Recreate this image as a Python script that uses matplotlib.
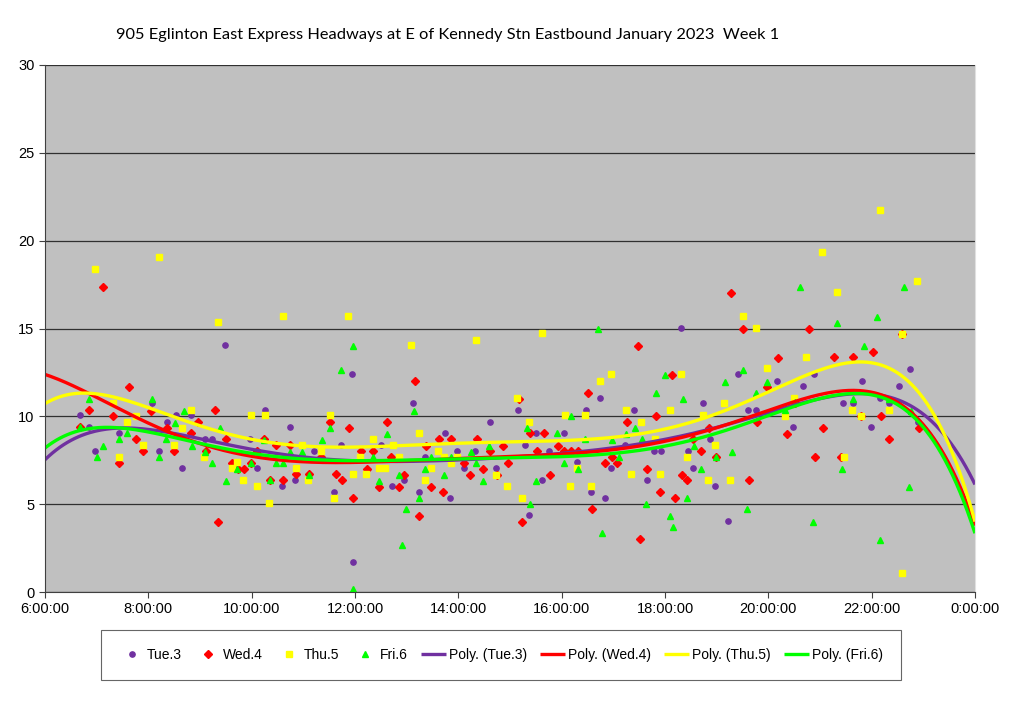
import numpy as np
import matplotlib
matplotlib.use('Agg')
import matplotlib.pyplot as plt

# headways (minutes) by departure time (hours after midnight)
tue_h = [6.68, 6.85, 6.97, 7.43, 8.08, 8.21, 8.36, 8.54, 8.65, 8.83,
         9.48, 10.26, 10.75, 11.94, 11.96, 9.10, 9.24, 9.97, 10.10, 10.59, 10.84, 11.21, 11.59, 11.73,
         13.13, 12.50, 12.95, 12.72, 13.23, 13.35, 13.75, 13.84, 13.97, 14.10, 14.33, 14.61, 14.73,
         15.15, 15.29, 15.51, 15.61, 15.37, 15.75, 16.05, 16.30, 16.47, 16.57, 16.75, 16.84, 16.95,
         17.22, 17.40, 17.65, 17.78, 17.92,
         18.31, 18.73, 18.45, 18.55, 18.87, 18.97, 19.22, 19.42, 19.60, 19.77, 20.16, 20.48, 20.68, 20.88,
         21.82, 21.45, 21.63, 22.16, 22.34, 21.98, 22.52, 22.75, 22.90]
tue_v = [10.07, 9.37, 8.04, 9.07, 10.74, 8.04, 9.69, 10.07, 7.06, 10.07,
         14.04, 10.36, 9.37, 12.39, 1.73, 8.71, 8.71, 8.71, 7.04, 6.03, 6.37, 8.04, 5.71, 8.37,
         10.74, 8.37, 6.37, 6.03, 5.71, 7.70, 9.03, 5.37, 8.04, 7.04, 8.04, 9.69, 7.04,
         10.36, 8.37, 9.03, 6.37, 4.38, 8.04, 9.03, 7.38, 10.36, 5.71, 11.06, 5.37, 7.04,
         8.37, 10.36, 6.37, 8.04, 8.04,
         15.04, 10.74, 8.04, 7.04, 8.71, 6.03, 4.04, 12.39, 10.36, 10.36, 12.03, 9.37, 11.72, 12.39,
         12.03, 10.74, 10.74, 11.04, 10.74, 9.37, 11.72, 12.69, 9.69]

wed_h = [7.13, 6.85, 7.63, 7.31, 7.77, 7.43, 8.37, 8.50, 8.83, 8.96, 6.68, 8.06, 7.90,
         9.29, 9.34, 9.50, 9.61, 9.86, 10.11, 10.24, 10.36, 10.48, 10.61, 10.75, 10.85, 11.11,
         11.35, 11.52, 11.63, 11.74, 11.88, 11.97, 9.12, 9.73, 9.98,
         13.16, 12.62, 12.11, 12.35, 12.23, 12.47, 12.85, 12.95, 13.24, 13.37, 13.48, 13.62, 13.71,
         13.86, 14.11, 14.23, 14.37, 14.48, 14.61, 14.74, 14.86, 14.97, 12.69,
         15.17, 15.39, 15.52, 15.66, 15.77, 15.24, 15.92, 16.05, 16.18, 16.31, 16.51, 16.58, 16.84,
         16.97, 17.08, 17.26, 17.48, 17.52, 17.65, 17.82, 17.91,
         19.27, 19.51, 20.78, 20.19, 18.13, 19.98, 18.86, 18.55, 18.69, 18.99, 19.79, 20.36, 20.91,
         18.33, 18.42, 18.19, 19.62, 20.52,
         21.28, 21.63, 22.03, 21.06, 21.41, 21.80, 22.19, 22.34, 22.92, 22.58]
wed_v = [17.38, 10.34, 11.69, 10.04, 8.69, 7.36, 9.36, 8.02, 9.03, 9.69, 9.40, 10.32, 8.02,
         10.34, 4.00, 8.69, 7.36, 7.02, 8.02, 8.69, 6.37, 8.37, 6.37, 8.37, 6.70, 6.70,
         7.70, 9.68, 6.70, 6.37, 9.36, 5.37, 8.02, 7.02, 7.36,
         11.99, 9.68, 8.02, 8.02, 7.02, 5.99, 5.99, 6.66, 4.34, 8.33, 5.99, 8.69, 5.67,
         8.69, 7.36, 6.66, 8.69, 7.02, 8.02, 6.66, 8.33, 7.36, 7.66,
         11.00, 9.03, 8.02, 9.03, 6.66, 4.00, 8.33, 8.02, 8.02, 8.02, 11.33, 4.71, 7.36,
         7.70, 7.36, 9.68, 14.00, 3.00, 7.02, 10.02, 5.67,
         17.04, 15.00, 15.00, 13.34, 12.35, 11.69, 9.36, 8.69, 8.02, 7.70, 9.68, 8.99, 7.70,
         6.66, 6.37, 5.33, 6.37, 10.74,
         13.36, 13.36, 13.68, 9.36, 7.70, 10.02, 10.02, 8.69, 9.36, 14.68]

thu_h = [6.97, 8.21, 7.31, 7.59, 7.77, 7.43, 7.90, 8.50, 8.66, 8.83,
         9.35, 10.61, 11.86, 9.99, 10.25, 11.51, 9.08, 9.62, 9.72, 9.83, 10.10, 10.34, 10.85, 10.98,
         11.09, 11.35, 11.60, 11.97,
         13.09, 14.34, 13.24, 12.35, 12.21, 12.47, 12.59, 12.73, 12.85, 13.35, 13.47, 13.61, 13.73,
         13.85, 13.98, 14.73, 14.94, 12.10,
         15.61, 16.95, 16.75, 15.13, 15.37, 16.06, 16.45, 17.25, 17.53, 15.23, 16.17, 16.29, 16.56,
         17.35, 17.91, 17.81,
         19.51, 19.77, 18.30, 20.72, 19.98, 18.10, 18.73, 19.15, 18.97, 18.42, 18.84, 19.26, 20.32, 20.50,
         22.16, 21.04, 21.33, 22.88, 22.58, 21.61, 21.80, 22.33, 21.47, 22.59]
thu_v = [18.38, 19.09, 10.74, 9.69, 10.04, 7.70, 8.37, 8.37, 9.36, 10.36,
         15.38, 15.71, 15.71, 10.07, 10.07, 10.07, 7.70, 7.04, 7.38, 6.37, 6.03, 5.05, 7.04, 8.37,
         6.37, 8.04, 5.37, 6.70,
         14.04, 14.34, 9.03, 8.71, 6.70, 7.04, 7.04, 8.37, 7.70, 6.37, 7.04, 8.04, 7.70,
         7.36, 7.70, 6.66, 6.03, 7.70,
         14.72, 12.39, 12.03, 11.02, 9.69, 10.06, 10.06, 10.36, 9.69, 5.37, 6.03, 7.04, 6.03,
         6.70, 6.70, 8.71,
         15.71, 15.04, 12.39, 13.39, 12.73, 10.36, 10.07, 10.74, 8.37, 7.70, 6.37, 6.37, 10.04, 11.02,
         21.74, 19.37, 17.06, 17.72, 14.68, 10.36, 10.02, 10.36, 7.70, 1.06]

fri_h = [6.85, 7.13, 7.00, 7.43, 8.08, 8.21, 8.35, 8.52, 8.69, 8.84, 7.59, 6.68,
         11.97, 11.73, 9.39, 9.24, 9.50, 10.24, 10.48, 10.61, 10.74, 10.98, 11.11, 11.37, 11.52,
         11.97, 9.10, 9.72, 10.35, 9.98,
         13.15, 12.61, 12.35, 12.47, 12.85, 12.99, 12.90, 13.24, 13.36, 13.48, 13.72, 13.86, 14.24,
         14.35, 14.47, 14.60,
         16.71, 15.32, 15.39, 15.50, 15.90, 16.04, 16.19, 16.32, 16.45, 16.79, 16.97, 17.11, 17.24,
         17.41, 17.55, 17.63, 17.82, 18.00,
         18.34, 19.17, 19.51, 19.77, 20.61, 19.98, 18.56, 18.69, 18.99, 19.29, 18.43, 18.10, 18.16,
         19.59, 20.87, 20.32, 20.52,
         21.32, 22.10, 22.62, 21.85, 21.63, 22.33, 21.43, 22.73, 22.16, 22.76]
fri_v = [10.96, 8.33, 7.66, 8.69, 10.98, 7.66, 8.69, 9.64, 10.32, 8.33, 9.03, 9.40,
         14.00, 12.63, 9.36, 7.36, 6.33, 8.65, 7.32, 7.32, 7.99, 7.99, 6.66, 8.65, 9.36,
         0.15, 7.99, 7.00, 6.37, 7.36,
         10.32, 8.99, 7.66, 6.33, 6.66, 4.71, 2.67, 5.33, 7.00, 7.66, 6.66, 7.66, 7.99,
         7.32, 6.33, 8.33,
         15.00, 9.36, 4.99, 6.33, 9.03, 7.32, 10.02, 7.00, 8.69, 3.34, 8.65, 7.66, 8.99,
         9.36, 8.69, 4.99, 11.31, 12.35,
         10.98, 11.97, 12.63, 11.31, 17.34, 11.97, 8.33, 7.00, 7.66, 7.99, 5.33, 4.33, 3.68,
         4.71, 4.00, 10.36, 10.83,
         15.33, 15.67, 17.34, 14.00, 10.96, 10.96, 7.00, 5.99, 2.96, 10.32]

# polynomial trendlines, values
trend_h = [6, 7, 8, 9, 10, 11, 12, 13, 14, 15, 16, 17, 18, 19, 20, 21, 22, 23, 23.5, 24]
tue_trend = [7.5, 9.2, 9.35, 8.65, 8.1, 7.6, 7.47, 7.5, 7.6, 7.7, 7.9, 8.15, 8.6, 9.3,
             10.2, 11.2, 11.4, 10.0, 8.3, 6.35]
wed_trend = [12.35, 11.2, 9.5, 8.42, 7.8, 7.42, 7.36, 7.45, 7.6, 7.7, 7.9, 8.12, 8.56, 9.32,
             10.26, 11.3, 11.5, 9.5, 7.1, 3.9]
thu_trend = [10.7, 11.3, 10.6, 9.3, 8.75, 8.33, 8.18, 8.37, 8.52, 8.56, 8.65, 8.84, 9.15, 10.07,
             11.4, 12.73, 13.24, 10.9, 8.1, 4.2]
fri_trend = [8.2, 9.3, 9.22, 8.42, 7.89, 7.51, 7.47, 7.51, 7.61, 7.7, 7.74, 7.89, 8.2, 8.93,
             10.07, 11.1, 11.4, 9.3, 6.75, 3.55]

tick_hours = [6, 8, 10, 12, 14, 16, 18, 20, 22, 24]
tick_labels = ['6:00:00', '8:00:00', '10:00:00', '12:00:00', '14:00:00', '16:00:00',
               '18:00:00', '20:00:00', '22:00:00', '0:00:00']

PURPLE = '#7030A0'
RED = '#FF0000'
YELLOW = '#FFFF00'
GREEN = '#00FF00'

plt.rcParams['font.family'] = ['Liberation Sans', 'DejaVu Sans']


def poly_curve(values, deg=6):
    # smooth polynomial through the read trend values, like Excel's poly trendline
    t = (np.array(trend_h) - 15.0) / 9.0
    coef = np.polyfit(t, values, deg)
    xs = np.linspace(6, 24, 500)
    return xs, np.polyval(coef, (xs - 15.0) / 9.0)


fig = plt.figure(figsize=(10.24, 7.02), dpi=100)
ax = fig.add_axes([45 / 1024, 1 - 592 / 702, 930 / 1024, 527 / 702])
ax.set_facecolor('#C0C0C0')

ax.plot(tue_h, tue_v, linestyle='none', marker='o', ms=3.8, color=PURPLE, mec=PURPLE, label='Tue.3')
ax.plot(wed_h, wed_v, linestyle='none', marker='D', ms=4.2, color=RED, mec=RED, label='Wed.4')
ax.plot(thu_h, thu_v, linestyle='none', marker='s', ms=3.8, color=YELLOW, mec=YELLOW, label='Thu.5')
ax.plot(fri_h, fri_v, linestyle='none', marker='^', ms=4.2, color=GREEN, mec=GREEN, label='Fri.6')

for vals, col, lab in [(tue_trend, PURPLE, 'Poly. (Tue.3)'), (wed_trend, RED, 'Poly. (Wed.4)'),
                       (thu_trend, YELLOW, 'Poly. (Thu.5)'), (fri_trend, GREEN, 'Poly. (Fri.6)')]:
    xs, ys = poly_curve(vals)
    ax.plot(xs, ys, color=col, lw=2.4, label=lab, solid_capstyle='butt')

ax.set_xlim(6, 24)
ax.set_ylim(0, 30)
ax.set_xticks(tick_hours)
ax.set_xticklabels(tick_labels)
ax.set_yticks(range(0, 31, 5))
ax.tick_params(axis='both', labelsize=10.5, direction='out', length=4, color='#404040')
ax.grid(axis='y', color='#303030', lw=0.9)
ax.set_axisbelow(True)
ax.spines['top'].set_visible(False)
ax.spines['right'].set_color('#E0E0E0')
ax.spines['left'].set_color('#404040')
ax.spines['bottom'].set_color('#404040')

fig.text(448 / 1024, 1 - 35 / 702,
         '905 Eglinton East Express Headways at E of Kennedy Stn Eastbound January 2023  Week 1',
         ha='center', va='center', fontsize=11.8, family=['Lato', 'DejaVu Sans'])

handles, labels = ax.get_legend_handles_labels()
leg = fig.legend(handles, labels, loc='center', bbox_to_anchor=(501 / 1024, 1 - 655 / 702),
                 ncol=8, fontsize=10, frameon=True, fancybox=False, edgecolor='#404040',
                 handlelength=1.8, handletextpad=0.2, columnspacing=0.95, borderpad=1.3)
leg.get_frame().set_linewidth(0.8)

fig.savefig('out.png', dpi=100, facecolor='white')
